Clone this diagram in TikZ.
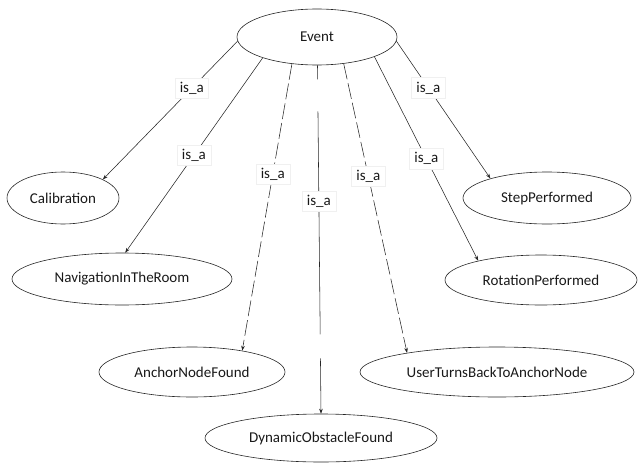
\documentclass[tikz,border=0pt]{standalone}
\usepackage{fontspec}
\setmainfont{Carlito}
\usetikzlibrary{shapes.geometric,arrows.meta}

\begin{document}
\begin{tikzpicture}[x=1pt,y=-1pt,
  concept/.style={ellipse,draw=black!85,line width=0.6pt,inner sep=0pt,
    font=\fontsize{15}{17}\selectfont,text=black!90},
  isa/.style={draw=black!85,line width=0.55pt,-{Stealth[length=5pt,width=3.6pt]}},
  dashedisa/.style={isa,dash pattern=on 16pt off 4pt},
  lbl/.style={fill=white,draw=black!6,inner xsep=5pt,inner ysep=4pt,
    font=\fontsize{15}{17}\selectfont,text=black!90,solid}
]
\useasboundingbox (0,0) rectangle (642,463);

% class nodes
\node[concept,minimum width=160pt,minimum height=56pt] (ev)   at (317,37)  {Event};
\node[concept,minimum width=112pt,minimum height=52pt] (cal)  at (63,198)  {Calibration};
\node[concept,minimum width=220pt,minimum height=52pt] (nav)  at (122,279) {NavigationInTheRoom};
\node[concept,minimum width=168pt,minimum height=52pt] (step) at (547,198) {StepPerformed};
\node[concept,minimum width=192pt,minimum height=50pt] (rot)  at (541,280) {RotationPerformed};
\node[concept,minimum width=186pt,minimum height=50pt] (anc)  at (192,372) {AnchorNodeFound};
\node[concept,minimum width=274pt,minimum height=50pt] (utb)  at (497,372) {UserTurnsBackToAnchorNode};
\node[concept,minimum width=232pt,minimum height=48pt] (dyn)  at (321,438) {DynamicObstacleFound};

% is_a relations
\draw[isa] (ev.183) -- node[lbl,pos=0.34] {is\_a} (cal.25);
\draw[isa] (ev.201) -- node[lbl,pos=0.5] {is\_a} (nav.83);
\draw[dashedisa] (ev.227) -- node[lbl,pos=0.385] {is\_a} (anc.23);
\draw[isa,dash pattern=on 14pt off 32pt on 223pt off 24pt on 90pt]
  (ev.271) -- node[lbl,pos=0.39] {is\_a} (dyn.north);
\draw[dashedisa] (ev.315) -- node[lbl,pos=0.39] {is\_a} (utb.168);
\draw[isa] (ev.341) -- node[lbl,pos=0.5] {is\_a} (rot.163);
\draw[isa] (ev.-3) -- node[lbl,pos=0.34] {is\_a} (step.161);
\end{tikzpicture}
\end{document}
